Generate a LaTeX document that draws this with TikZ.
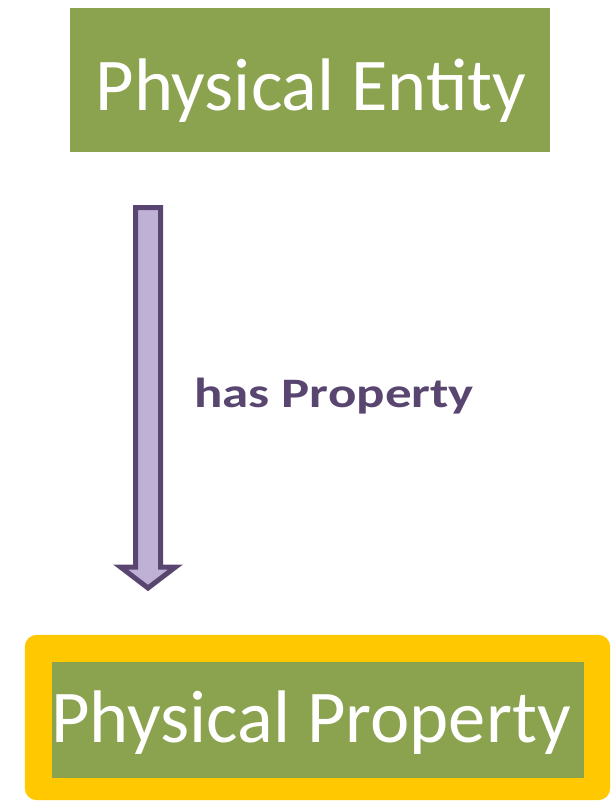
\documentclass[tikz,border=0pt]{standalone}
\usepackage{fontspec}
\setmainfont{Carlito}
\usetikzlibrary{
	positioning,
	calc,
	backgrounds
}
\definecolor{olivebox}{HTML}{8BA24E}
\definecolor{goldframe}{HTML}{FFC800}
\definecolor{lilacfill}{HTML}{BFB1D5}
\definecolor{plumline}{HTML}{594670}

\begin{document}
\begin{tikzpicture}[x=1pt,y=-1pt,
		classbox/.style={fill=olivebox, inner sep=0pt},
		classname/.style={text=white, inner sep=0pt, anchor=base, font=\fontsize{74.5}{80}\selectfont},
		blockarrow/.style={fill=lilacfill, draw=plumline, line width=5pt, line join=miter},
		relname/.style={text=plumline, font=\fontsize{42}{48}\selectfont\bfseries}
		]
		\useasboundingbox (0,0) rectangle (612,801);
		
		% --- Classes ---
		\node[classbox, minimum width=480pt, minimum height=144pt] (entity) at (310,80) {};
		\node[classname] (entitytext) at ($(entity.center)+(1,30)$) {Physical Entity};
		
		\node[classbox, minimum width=532pt, minimum height=116pt] (property) at (318,720) {};
		\node[classname] (propertytext) at ($(property.center)+(-7,22)$) {Physical Property};
		
		% --- Highlight frame ---
		\begin{scope}[on background layer]
			\fill[goldframe, rounded corners=12pt] ([shift={(-27,-27)}]property.north west) rectangle ([shift={(26,22)}]property.south east);
		\end{scope}
		
		% --- Relation arrow ---
		\coordinate (reltop) at (148,207.5);
		\coordinate (reltip) at (148,588);
		\draw[blockarrow] ($(reltop)+(-12.5,0)$) -- ($(reltop)+(12.5,0)$)
		-- ($(reltip)+(12.5,-21)$) -- ($(reltip)+(27.5,-21)$) -- (reltip)
		-- ($(reltip)+(-27.5,-21)$) -- ($(reltip)+(-12.5,-21)$) -- cycle;
		
		\node[relname, anchor=base west, inner sep=0pt] (hasprop) at (194,407) {\scalebox{1.26}[1]{has Property}};
		
\end{tikzpicture}
\end{document}
